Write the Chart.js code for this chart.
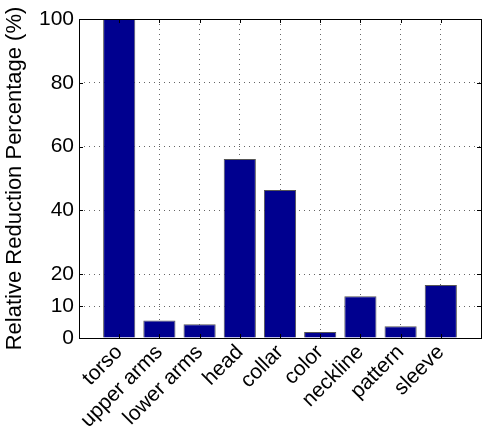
<!DOCTYPE html>
<html><head><meta charset="utf-8">
<script src="https://cdn.jsdelivr.net/npm/chart.js@4/dist/chart.umd.min.js"></script>
<style>html,body{margin:0;padding:0;background:#fff}#w{width:498px;height:442px}</style>
</head><body><div id="w"><canvas id="c" width="498" height="442"></canvas></div>
<script>
const categories = ['torso','upper arms','lower arms','head','collar','color','neckline','pattern','sleeve'];
const values = [100, 5.5, 4.3, 56.1, 46.4, 1.9, 13.1, 3.7, 16.6];
const yTicks = [0, 10, 20, 40, 60, 80, 100];
const yTitle = 'Relative Reduction Percentage (%)';

const FONT = {family: '"Liberation Sans", Arial, sans-serif', size: 21};
const TITLE_FONT = {family: '"Liberation Sans", Arial, sans-serif', size: 22};

const boxPlugin = {
  id: 'box',
  afterDraw(chart) {
    const a = chart.chartArea, ctx = chart.ctx;
    ctx.save();
    ctx.strokeStyle = '#000';
    ctx.lineWidth = 1;
    ctx.strokeRect(Math.round(a.left)+0.5, Math.round(a.top)+0.5, Math.round(a.right-a.left), Math.round(a.bottom-a.top));
    const xs = chart.scales.x, ys = chart.scales.y;
    ctx.beginPath();
    xs.ticks.forEach(t => {
      const px = Math.round(xs.getPixelForValue(t.value)) + 0.5;
      ctx.moveTo(px, a.bottom); ctx.lineTo(px, a.bottom - 4);
      ctx.moveTo(px, a.top); ctx.lineTo(px, a.top + 4);
    });
    ys.ticks.forEach(t => {
      const py = Math.round(ys.getPixelForValue(t.value)) + 0.5;
      ctx.moveTo(a.left, py); ctx.lineTo(a.left + 4, py);
      ctx.moveTo(a.right, py); ctx.lineTo(a.right - 4, py);
    });
    ctx.stroke();
    ctx.restore();
  }
};

new Chart(document.getElementById('c'), {
  type: 'bar',
  data: {
    datasets: [{
      data: values.map((v, i) => ({x: i + 1, y: v})),
      backgroundColor: '#00008F',
      borderColor: '#555555',
      borderWidth: 1,
      barPercentage: 1,
      categoryPercentage: 0.8
    }]
  },
  options: {
    responsive: false,
    animation: false,
    devicePixelRatio: 1,
    layout: {padding: {top: 19, right: 17, left: 2, bottom: 0}},
    plugins: {legend: {display: false}, tooltip: {enabled: false}},
    scales: {
      x: {
        type: 'linear', min: 0, max: 10, offset: false,
        afterBuildTicks(s) { s.ticks = categories.map((c, i) => ({value: i + 1})); },
        afterFit(s) { s.height = 104; },
        ticks: {
          autoSkip: false, minRotation: 45, maxRotation: 45,
          color: '#000', font: FONT, padding: 2,
          callback: (v) => categories[v - 1]
        },
        grid: {offset: false, color: '#666', lineWidth: 1, drawTicks: false, tickLength: 0},
        border: {display: false, dash: [1, 4]}
      },
      y: {
        min: 0, max: 100,
        afterBuildTicks(s) { s.ticks = yTicks.map(v => ({value: v})); },
        afterFit(s) { s.width = 77; },
        ticks: {color: '#000', font: FONT, padding: 5},
        title: {display: true, text: yTitle, color: '#000', font: TITLE_FONT, padding: {top: 0, bottom: 0}},
        grid: {color: '#666', lineWidth: 1, drawTicks: false, tickLength: 0},
        border: {display: false, dash: [1, 4]}
      }
    }
  },
  plugins: [boxPlugin]
});
</script></body></html>
